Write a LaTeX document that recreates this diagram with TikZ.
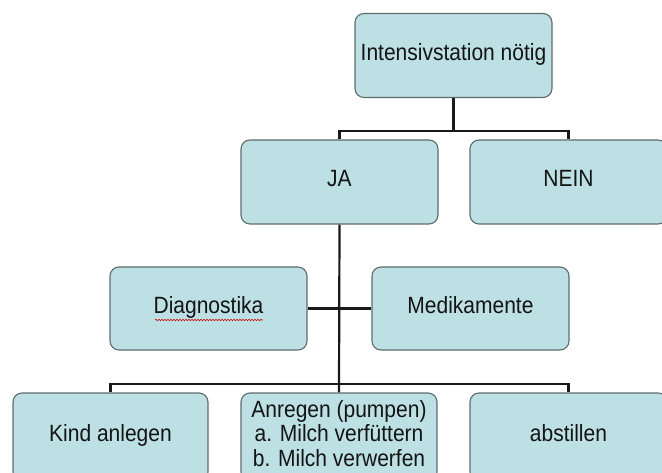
\documentclass[tikz,border=0pt]{standalone}
\usepackage{fontspec}
\setmainfont{Liberation Sans}
\usetikzlibrary{decorations.pathmorphing}
\definecolor{boxfill}{RGB}{189,224,228}
\definecolor{boxline}{RGB}{95,108,110}
\definecolor{txt}{RGB}{20,20,20}
\newcommand\vtxt[1]{\scalebox{1}[1.12]{\begin{tabular}{@{}c@{}}#1\end{tabular}}}
\begin{document}
\begin{tikzpicture}[x=1pt,y=-1pt,
  box/.style={draw=boxline, line width=1.1pt, fill=boxfill, rounded corners=9pt,
    minimum width=197pt, minimum height=84pt, inner sep=0pt, text=txt,
    font=\fontsize{21}{21.4}\selectfont},
  conn/.style={line width=2.2pt, draw=black!90}]
\useasboundingbox (0,0) rectangle (662,473);
\clip (0,0) rectangle (662,473);
\fill[white] (0,0) rectangle (662,473);

\node[box] (top) at (453.5,55.5) {\vtxt{Intensivstation nötig}};
\node[box] (ja) at (339.5,182) {\vtxt{JA}};
\node[box] (nein) at (568.5,182) {\vtxt{NEIN}};
\node[box, minimum height=83pt] (diag) at (208.5,308.5) {\vtxt{Diagnostika}};
\node[box, minimum height=83pt] (medi) at (470.5,308.5) {\vtxt{Medikamente}};
\node[box, minimum height=88pt, minimum width=195pt] (kind) at (110.5,437) {\vtxt{Kind anlegen}};
\node[box, minimum height=88pt, minimum width=196pt] (anr) at (339,437) {\vtxt{Anregen (pumpen)\\a. Milch verfüttern\\b. Milch verwerfen}};
\node[box, minimum height=88pt] (abst) at (568.5,437) {\vtxt{abstillen}};

\coordinate (b1) at (453.5,131);
\coordinate (b2) at (339,384);

\draw[conn] (top.south) -- (b1);
\draw[conn] (ja.north) |- (b1) -| (nein.north);
\draw[conn] (ja.south) -- (anr.north);
\draw[conn] (diag.east) -- (medi.west);
\draw[conn] (kind.north) |- (b2) -| (abst.north);

\draw[red!80!black, line width=0.6pt, decorate,
  decoration={snake, amplitude=0.7pt, segment length=3pt}]
  (155,320) -- (263,320);
\end{tikzpicture}
\end{document}
